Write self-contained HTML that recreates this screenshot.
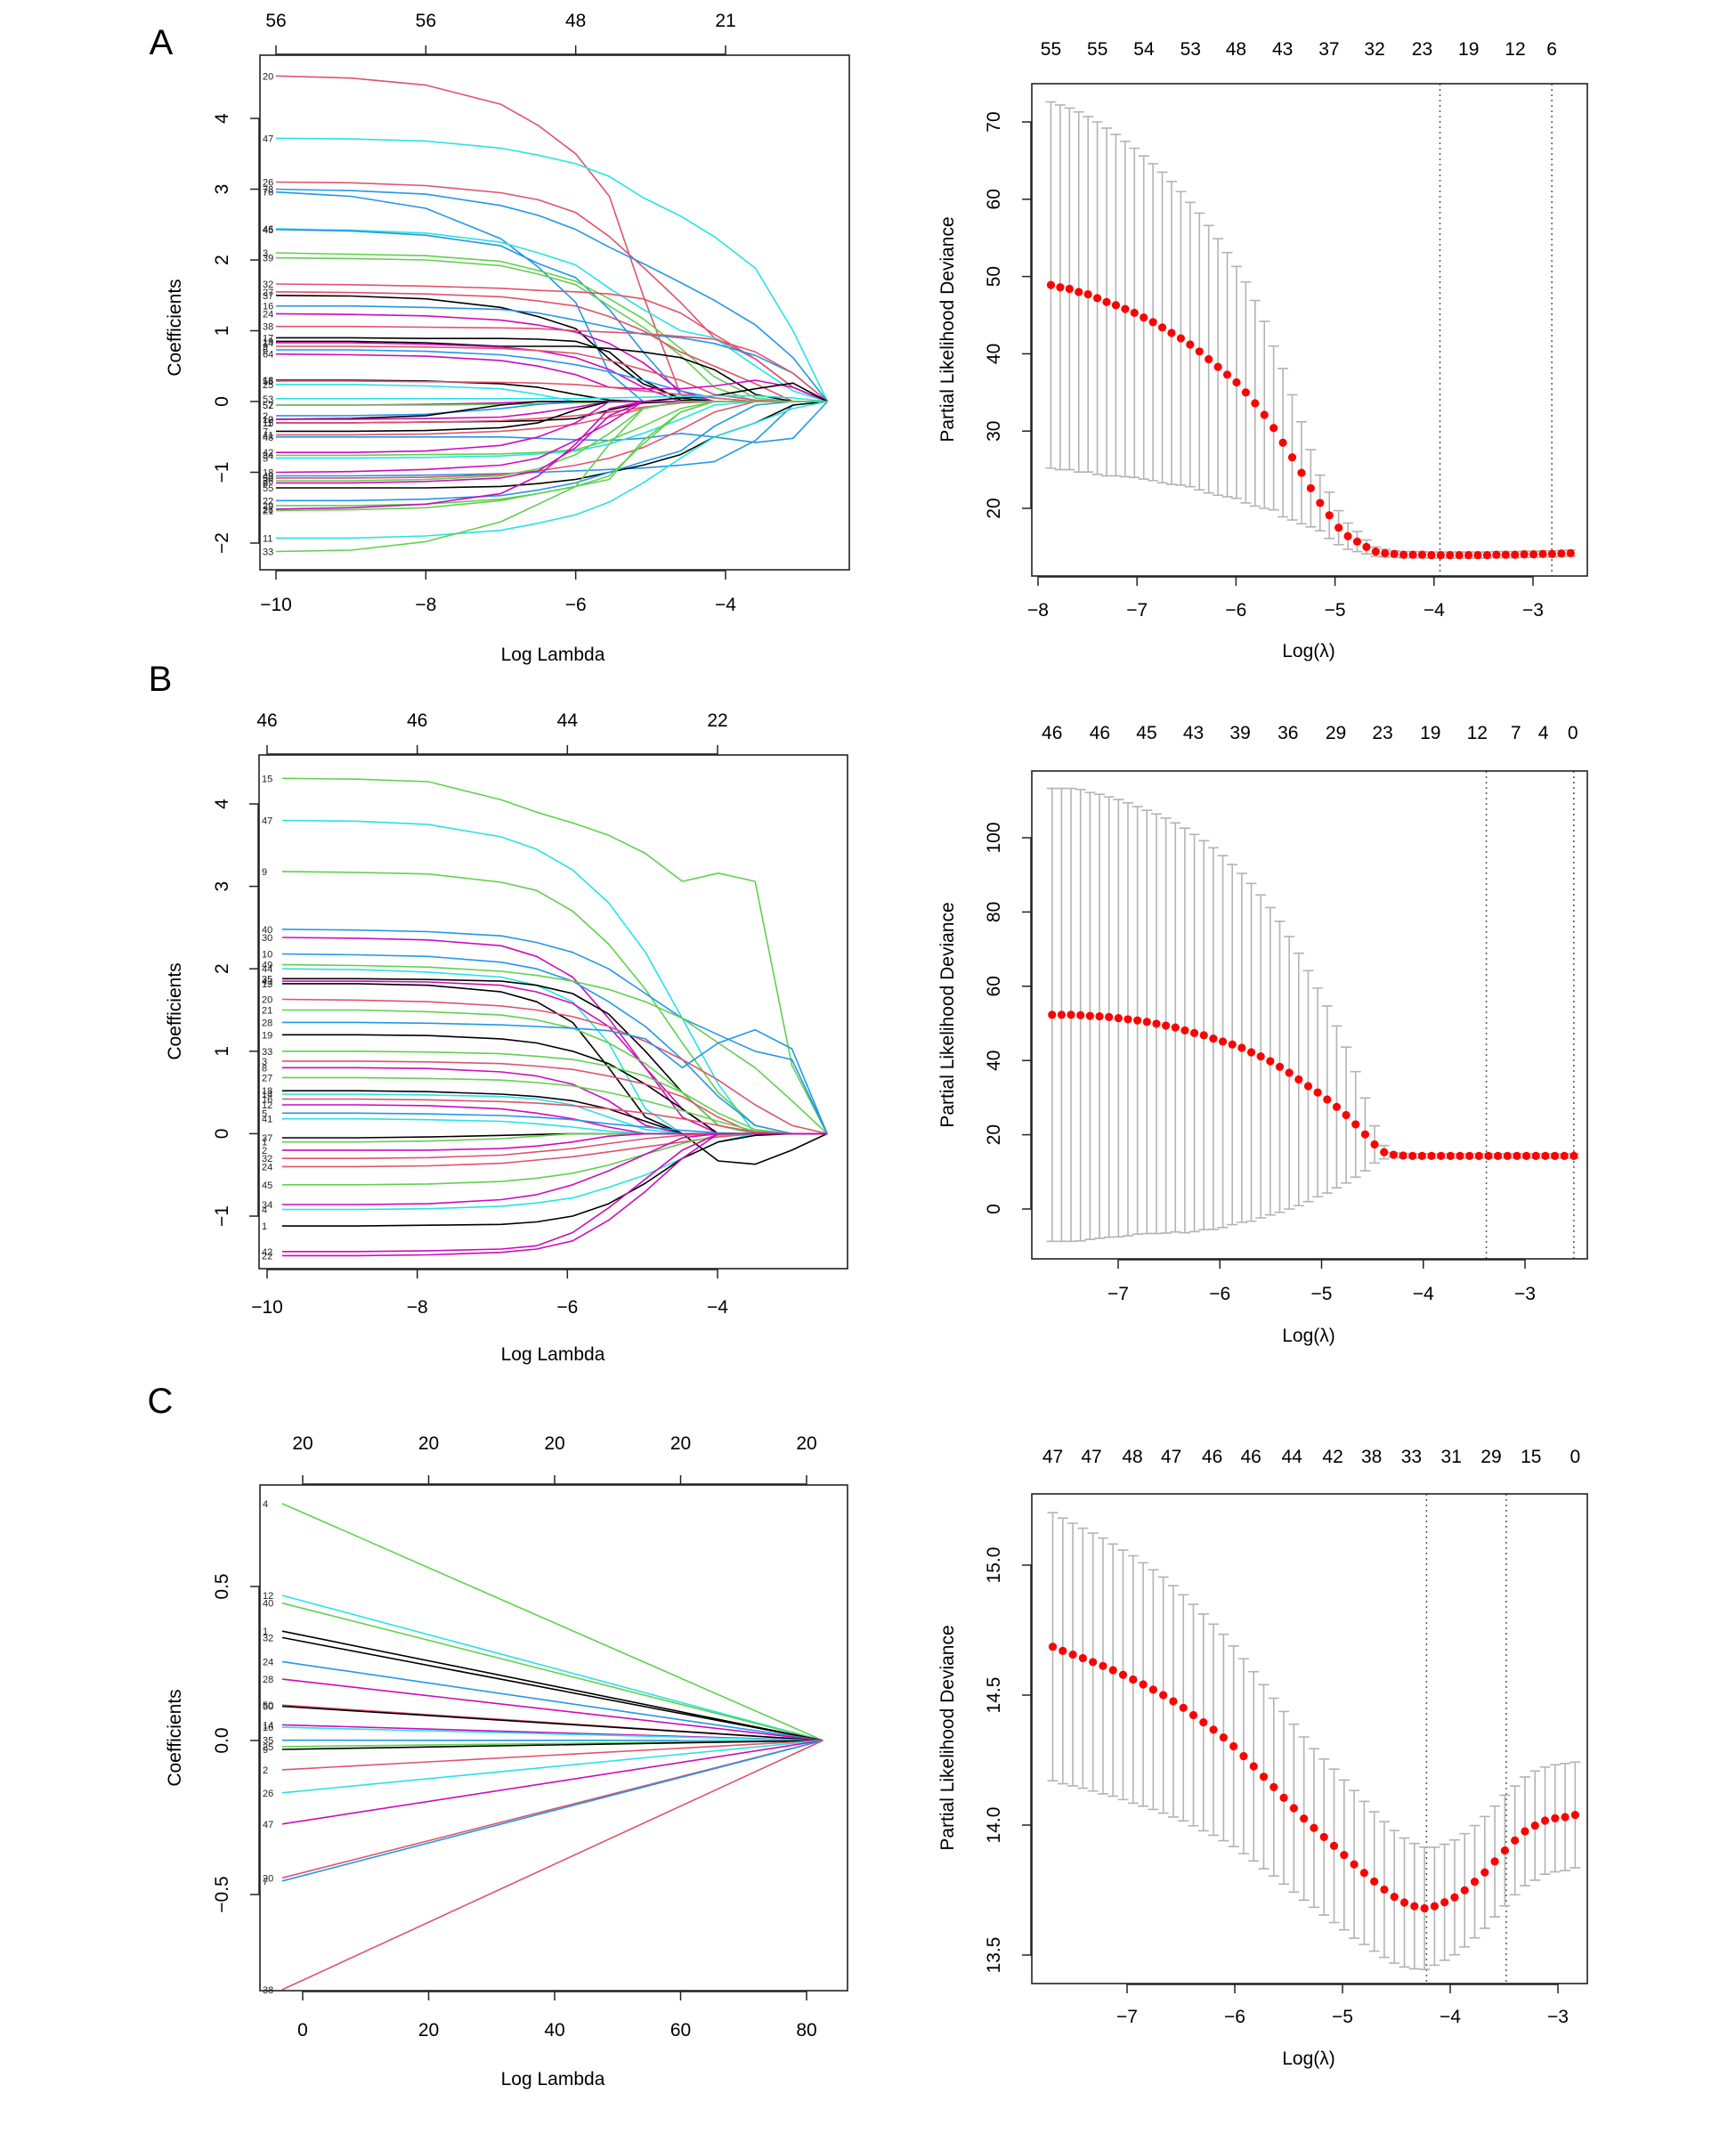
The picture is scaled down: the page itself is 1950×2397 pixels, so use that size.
<!DOCTYPE html>
<html><head><meta charset="utf-8">
<style>
html,body{margin:0;padding:0;background:#fff;}
svg{display:block;font-family:"Liberation Sans",Arial,sans-serif;}
</style></head>
<body>
<svg id="fig" xmlns="http://www.w3.org/2000/svg" width="1950" height="2397" viewBox="0 0 1950 2397">
<rect x="0" y="0" width="1950" height="2397" fill="#fff"/>
<text x="181" y="61" font-size="40" text-anchor="middle">A</text>
<text x="180" y="776" font-size="40" text-anchor="middle">B</text>
<text x="180" y="1587" font-size="40" text-anchor="middle">C</text>
</svg>
<script>
// ---------- Panel A coefficient paths ----------
const aLambda = [-10,-9,-8,-7,-6.5,-6,-5.55,-5.1,-4.6,-4.15,-3.6,-3.1,-2.64];
const aNames = ['20','47','26','78','76','46','45','3','39','32','27','37','16','24','38','17','19','14','9','6','64','18','56','25','53','52','57','2','10','11','13','15','7','41','48','42','34','5','18','49','50','36','8','55','22','29','28','21','11','33'];
const aColors = ['r','c','r','b','b','c','b','g','g','r','r','k','b','m','r','k','k','m','r','b','m','k','r','c','c','m','g','b','k','k','m','r','k','r','b','m','g','c','m','b','r','g','m','k','b','g','m','g','c','g'];
const aCoefs = [
[4.6,4.57,4.47,4.2,3.9,3.5,2.9,1.5,0.1,0,0,0,0],
[3.72,3.71,3.68,3.58,3.48,3.36,3.18,2.88,2.62,2.33,1.88,1.0,0],
[3.1,3.09,3.05,2.95,2.85,2.67,2.33,1.9,1.4,0.9,0.6,0.2,0],
[3.0,2.98,2.93,2.77,2.63,2.43,2.18,1.95,1.68,1.43,1.08,0.62,0],
[2.96,2.9,2.73,2.3,1.9,1.4,0.4,0,0,0,0,0,0],
[2.44,2.42,2.38,2.25,2.1,1.93,1.6,1.3,1.0,0.9,0.5,0.15,0],
[2.43,2.41,2.35,2.2,1.95,1.75,1.3,0.7,0.1,0,0,0,0],
[2.1,2.08,2.06,1.98,1.85,1.7,1.45,1.17,0.75,0.35,0.05,0,0],
[2.03,2.02,2.0,1.92,1.8,1.65,1.35,1.05,0.65,0.2,0,0,0],
[1.66,1.65,1.63,1.6,1.57,1.55,1.52,1.45,1.25,0.95,0.6,0.2,0],
[1.55,1.54,1.52,1.48,1.42,1.35,1.2,1.0,0.7,0.5,0.25,0,0],
[1.5,1.49,1.45,1.33,1.2,1.03,0.6,0.25,0.05,0,0,0,0],
[1.35,1.35,1.33,1.3,1.25,1.15,1.05,0.95,0.9,0.82,0.65,0.4,0],
[1.24,1.23,1.21,1.15,1.08,0.98,0.82,0.55,0.15,0,0,0,0],
[1.06,1.06,1.05,1.04,1.03,1.0,0.98,0.96,0.92,0.88,0.7,0.4,0],
[0.9,0.9,0.89,0.89,0.88,0.85,0.7,0.3,0.02,0,0,0,0],
[0.85,0.85,0.83,0.78,0.78,0.78,0.75,0.7,0.62,0.45,0.1,0,0],
[0.83,0.83,0.81,0.77,0.72,0.62,0.45,0.2,0,0,0,0,0],
[0.78,0.78,0.77,0.75,0.72,0.68,0.58,0.45,0.3,0.1,0.02,0,0],
[0.73,0.73,0.71,0.66,0.6,0.52,0.42,0.3,0.15,0.05,0,0,0],
[0.67,0.66,0.64,0.58,0.5,0.38,0.2,0.18,0.18,0.22,0.3,0.2,0],
[0.3,0.3,0.29,0.25,0.2,0.1,0.02,0,0.05,0.08,0.18,0.26,0],
[0.29,0.29,0.28,0.27,0.26,0.24,0.2,0.15,0.1,0.05,0,0,0],
[0.24,0.24,0.22,0.18,0.1,0,0,0,0,0,0,0,0],
[0.04,0.04,0.04,0.04,0.04,0.04,0.05,0.06,0.07,0.08,0.08,0.05,0],
[-0.05,-0.05,-0.04,-0.02,0,0,0,0,0,0,0,0,0],
[-0.05,-0.05,-0.05,-0.04,-0.03,-0.02,-0.01,0,0,0,0,0,0],
[-0.2,-0.2,-0.18,-0.1,-0.04,0,0,0,0,0,0,0,0],
[-0.25,-0.24,-0.2,-0.05,0,0,0,0,0,0,0,0,0],
[-0.3,-0.3,-0.29,-0.28,-0.27,-0.24,-0.12,-0.02,0,0,0,0,0],
[-0.25,-0.25,-0.24,-0.22,-0.16,-0.08,0,0,0,0,0,0,0],
[-0.3,-0.3,-0.29,-0.27,-0.24,-0.2,-0.15,-0.08,-0.02,0,0,0,0],
[-0.42,-0.42,-0.41,-0.37,-0.3,-0.12,0,0,0,0,0,0,0],
[-0.47,-0.47,-0.46,-0.42,-0.38,-0.32,-0.22,-0.1,0,0,0,0,0],
[-0.5,-0.5,-0.5,-0.5,-0.52,-0.54,-0.55,-0.52,-0.45,-0.5,-0.58,-0.52,0],
[-0.72,-0.72,-0.7,-0.62,-0.5,-0.3,0,0,0,0,0,0,0],
[-0.76,-0.76,-0.75,-0.74,-0.72,-0.68,-0.55,-0.35,-0.1,0,0,0,0],
[-0.8,-0.8,-0.79,-0.77,-0.74,-0.7,-0.6,-0.45,-0.25,-0.05,0,0,0],
[-1.0,-0.99,-0.96,-0.9,-0.8,-0.55,-0.3,0,0,0,0,0,0],
[-1.05,-1.05,-1.04,-1.02,-1.0,-0.98,-0.96,-0.94,-0.9,-0.85,-0.55,-0.05,0],
[-1.08,-1.08,-1.07,-1.03,-0.98,-0.9,-0.8,-0.65,-0.4,-0.15,0,0,0],
[-1.12,-1.12,-1.1,-1.05,-0.95,-0.75,-0.45,-0.1,0,0,0,0,0],
[-1.15,-1.15,-1.13,-1.08,-0.98,-0.65,-0.2,0,0,0,0,0,0],
[-1.22,-1.22,-1.22,-1.2,-1.16,-1.1,-1.0,-0.9,-0.75,-0.5,-0.3,-0.05,0],
[-1.4,-1.4,-1.38,-1.33,-1.25,-1.15,-1.0,-0.85,-0.7,-0.35,-0.05,0,0],
[-1.47,-1.47,-1.45,-1.38,-1.3,-1.2,-1.05,-0.6,-0.15,0,0,0,0],
[-1.52,-1.5,-1.45,-1.3,-1.05,-0.6,-0.1,0,0,0,0,0,0],
[-1.54,-1.53,-1.5,-1.4,-1.3,-1.2,-1.1,-0.55,-0.15,0,0,0,0],
[-1.93,-1.93,-1.9,-1.82,-1.72,-1.6,-1.42,-1.15,-0.8,-0.5,-0.3,-0.1,0],
[-2.12,-2.1,-1.98,-1.7,-1.45,-1.2,-0.6,-0.1,0,0,0,0,0]
];
const aXTicks = [-10,-8,-6,-4];
const aTopLabels = ['56','56','48','21'];
const aYTicks = [-2,-1,0,1,2,3,4];

// ---------- Panel B coefficient paths ----------
const bLambda = [-9.8,-8.8,-7.85,-6.88,-6.41,-5.93,-5.45,-4.96,-4.47,-3.99,-3.5,-3.01,-2.54];
const bNames = ['15','47','9','40','30','10','49','44','35','43','13','20','21','28','19','33','3','8','27','18','14','16','12','5','41','37','1','2','32','24','45','34','4','1','42','22'];
const bColors = ['g','c','g','b','m','b','g','c','k','m','k','r','g','b','k','g','r','m','g','k','c','r','m','b','c','k','g','m','r','r','g','m','c','k','m','m'];
const bCoefs = [
[4.31,4.3,4.27,4.05,3.9,3.77,3.62,3.4,3.06,3.16,3.06,0.83,0],
[3.8,3.79,3.75,3.6,3.45,3.2,2.8,2.2,1.4,0.6,0,0,0],
[3.18,3.17,3.15,3.05,2.95,2.7,2.3,1.75,1.1,0.5,0.1,0,0],
[2.48,2.47,2.45,2.4,2.32,2.2,2.0,1.7,1.4,1.2,1.0,0.9,0],
[2.38,2.37,2.35,2.28,2.15,1.9,1.4,0.8,0.3,0,0,0,0],
[2.18,2.17,2.15,2.08,2.0,1.85,1.6,1.3,0.9,0.45,0.1,0,0],
[2.05,2.04,2.02,1.97,1.92,1.85,1.75,1.6,1.4,1.1,0.8,0.4,0],
[2.0,1.99,1.96,1.9,1.8,1.6,1.1,0.3,0,0,0,0,0],
[1.88,1.88,1.87,1.85,1.8,1.7,1.45,1.0,0.5,0.1,0,0,0],
[1.85,1.85,1.84,1.8,1.72,1.58,1.3,0.8,0.2,0,0,0,0],
[1.82,1.82,1.8,1.72,1.6,1.35,0.8,0.2,0,0,0,0,0],
[1.63,1.62,1.6,1.55,1.5,1.42,1.3,1.12,0.9,0.65,0.35,0.1,0],
[1.5,1.5,1.48,1.44,1.38,1.28,1.1,0.85,0.5,0.1,0,0,0],
[1.35,1.35,1.34,1.32,1.3,1.28,1.25,1.15,0.8,1.1,1.26,1.03,0],
[1.2,1.2,1.19,1.15,1.1,1.0,0.85,0.6,0.3,0,0,0,0],
[1.0,1.0,0.99,0.97,0.94,0.9,0.82,0.7,0.5,0.25,0.05,0,0],
[0.88,0.88,0.87,0.85,0.82,0.78,0.7,0.6,0.45,0.2,0,0,0],
[0.8,0.8,0.79,0.75,0.7,0.6,0.4,0.1,0,0,0,0,0],
[0.68,0.68,0.67,0.65,0.62,0.58,0.5,0.4,0.28,0.15,0.03,0,0],
[0.52,0.52,0.51,0.48,0.45,0.4,0.3,0.15,0,0,0,0,0],
[0.48,0.48,0.47,0.45,0.42,0.35,0.2,0.05,0,0,0,0,0],
[0.42,0.42,0.41,0.39,0.37,0.34,0.3,0.25,0.18,0.1,0.02,0,0],
[0.35,0.35,0.34,0.3,0.25,0.18,0.08,0,0,0,0,0,0],
[0.25,0.25,0.24,0.22,0.2,0.17,0.12,0.08,0.04,0.01,0,0,0],
[0.18,0.18,0.17,0.15,0.12,0.08,0.03,0,0,0,0,0,0],
[-0.05,-0.05,-0.04,-0.02,-0.01,0,0,0,0,-0.33,-0.37,-0.2,0],
[-0.1,-0.1,-0.09,-0.06,-0.03,0,0,0,0,0,0,0,0],
[-0.2,-0.2,-0.2,-0.18,-0.15,-0.1,-0.03,0,0,0,0,0,0],
[-0.3,-0.3,-0.29,-0.26,-0.22,-0.18,-0.12,-0.06,-0.02,0,0,0,0],
[-0.4,-0.4,-0.39,-0.36,-0.32,-0.28,-0.22,-0.16,-0.1,-0.04,0,0,0],
[-0.62,-0.62,-0.61,-0.58,-0.54,-0.48,-0.38,-0.25,-0.12,-0.02,0,0,0],
[-0.86,-0.86,-0.85,-0.8,-0.74,-0.62,-0.45,-0.25,-0.05,0,0,0,0],
[-0.92,-0.92,-0.91,-0.88,-0.84,-0.78,-0.65,-0.5,-0.3,-0.1,0,0,0],
[-1.12,-1.12,-1.11,-1.1,-1.07,-1.0,-0.85,-0.6,-0.3,-0.1,-0.02,0,0],
[-1.43,-1.43,-1.42,-1.4,-1.36,-1.2,-0.9,-0.55,-0.2,0,0,0,0],
[-1.48,-1.48,-1.47,-1.44,-1.4,-1.3,-1.05,-0.7,-0.3,0,0,0,0]
];
const bXTicks = [-10,-8,-6,-4];
const bTopLabels = ['46','46','44','22'];
const bYTicks = [-1,0,1,2,3,4];

// ---------- Panel C coefficient paths (linear) ----------
const cLambda = [-3.25,82.6];
const cNames = ['4','12','40','1','32','24','28','50','50','14','16','35','25','9','2','26','47','20','7','38'];
const cColors = ['g','c','g','k','k','b','m','r','k','m','c','b','g','k','r','c','m','r','b','r'];
const cStart = [0.769,0.471,0.446,0.355,0.334,0.256,0.199,0.115,0.111,0.051,0.043,0.001,-0.02,-0.029,-0.095,-0.17,-0.271,-0.446,-0.456,-0.809];
const cXTicks = [0,20,40,60,80];
const cTopLabels = ['20','20','20','20','20'];
const cYTicks = [-0.5,0,0.5];
const cYTickLabels = ['\u22120.5','0.0','0.5'];

// ---------- Right panels: CV curves ----------
const dMean = [48.9,48.6,48.4,48.0,47.7,47.2,46.7,46.3,45.8,45.3,44.7,44.1,43.4,42.7,42.0,41.2,40.3,39.3,38.3,37.3,36.3,35.0,33.6,32.1,30.4,28.5,26.6,24.6,22.6,20.7,19.1,17.5,16.4,15.7,15.0,14.4,14.2,14.1,14.0,14.0,14.0,13.95,13.95,13.95,13.95,13.95,13.95,13.95,14.0,14.0,14.0,14.05,14.05,14.1,14.1,14.15,14.2];
const dSE = [23.7,23.6,23.4,23.3,23.0,22.8,22.5,22.1,21.7,21.3,20.9,20.5,20.1,19.6,19.0,18.4,17.9,17.3,16.6,15.8,15.0,14.3,13.3,12.1,10.6,9.6,8.1,6.6,5.0,3.6,3.0,2.2,1.7,1.3,0.9,0.6,0.5,0.4,0.4,0.4,0.4,0.4,0.4,0.4,0.4,0.4,0.4,0.4,0.4,0.4,0.4,0.4,0.4,0.4,0.4,0.4,0.4];
const dLambdaRange = [-7.87,-2.62];
const dVlines = [-3.94,-2.81];
const dTopLabels = ['55','55','54','53','48','43','37','32','23','19','12','6'];
const dTopPos = [-7.87,-7.4,-6.93,-6.46,-6.0,-5.53,-5.06,-4.6,-4.12,-3.65,-3.18,-2.81];
const dXTicks = [-8,-7,-6,-5,-4,-3];
const dYTicks = [20,30,40,50,60,70];

const eMean = [52.3,52.3,52.3,52.2,52.0,51.9,51.7,51.4,51.1,50.8,50.4,49.9,49.4,48.9,48.1,47.4,46.8,45.9,45.1,44.3,43.4,42.2,41.1,39.8,38.3,36.7,34.9,33.1,31.4,29.5,27.5,25.3,22.8,20.1,17.4,15.3,14.6,14.4,14.3,14.3,14.3,14.3,14.3,14.3,14.3,14.3,14.3,14.3,14.3,14.3,14.3,14.3,14.3,14.3,14.3,14.3];
const eSE = [61.0,61.0,61.0,60.8,60.2,59.8,59.3,58.9,58.3,57.6,57.0,56.5,55.9,55.1,54.5,53.5,52.4,51.4,50.1,48.5,47.0,45.5,43.5,41.4,39.2,36.7,34.0,31.1,28.1,25.2,21.8,18.3,14.2,9.8,5.0,1.8,0.6,0.6,0.6,0.6,0.6,0.6,0.6,0.6,0.6,0.6,0.6,0.6,0.6,0.6,0.6,0.6,0.6,0.6,0.6,0.6];
const eLambdaRange = [-7.65,-2.52];
const eVlines = [-3.38,-2.52];
const eTopLabels = ['46','46','45','43','39','36','29','23','19','12','7','4','0'];
const eTopPos = [-7.65,-7.18,-6.72,-6.26,-5.8,-5.33,-4.86,-4.4,-3.93,-3.47,-3.09,-2.82,-2.53];
const eXTicks = [-7,-6,-5,-4,-3];
const eYTicks = [0,20,40,60,80,100];

const fMean = [14.686,14.670,14.656,14.642,14.627,14.612,14.596,14.578,14.560,14.541,14.521,14.500,14.476,14.451,14.423,14.395,14.367,14.337,14.303,14.265,14.226,14.186,14.146,14.105,14.065,14.025,13.989,13.954,13.920,13.885,13.849,13.816,13.783,13.752,13.724,13.702,13.688,13.680,13.688,13.703,13.722,13.749,13.782,13.818,13.860,13.902,13.941,13.976,13.998,14.017,14.026,14.031,14.039];
const fSE = [.516,.511,.505,.500,.496,.492,.485,.480,.476,.468,.461,.454,.445,.435,.426,.417,.406,.397,.386,.375,.364,.354,.342,.332,.323,.314,.305,.300,.295,.288,.284,.275,.268,.261,.255,.248,.241,.235,.227,.223,.221,.218,.216,.215,.213,.213,.209,.209,.210,.206,.206,.206,.203];
const fLambdaRange = [-7.69,-2.84];
const fVlines = [-4.22,-3.48];
const fTopLabels = ['47','47','48','47','46','46','44','42','38','33','31','29','15','0'];
const fTopPos = [-7.69,-7.33,-6.95,-6.59,-6.21,-5.85,-5.47,-5.09,-4.73,-4.36,-3.99,-3.62,-3.25,-2.84];
const fXTicks = [-7,-6,-5,-4,-3];
const fYTicks = [13.5,14.0,14.5,15.0];
const fYTickLabels = ['13.5','14.0','14.5','15.0'];

// ---------- drawing ----------
const NS = 'http://www.w3.org/2000/svg';
const svg = document.getElementById('fig');
const COL = {k:'#000000', r:'#DF536B', g:'#61D04F', b:'#2297E6', c:'#28E2E5', m:'#CD0BBC'};
function el(tag, attrs, parent){
  const e = document.createElementNS(NS, tag);
  for (const k in attrs) e.setAttribute(k, attrs[k]);
  (parent||svg).appendChild(e);
  return e;
}
function lin(d0,d1,p0,p1){ return v => p0 + (v-d0)*(p1-p0)/(d1-d0); }
function fmt(v){ return (v<0?'\u2212':'') + Math.abs(v); }
function linspace(a,b,n){ const r=[]; for(let i=0;i<n;i++) r.push(a+(b-a)*i/(n-1)); return r; }

function frame(g, box, name){
  const r = el('rect',{x:box.x0,y:box.y0,width:box.x1-box.x0,height:box.y1-box.y0,fill:'none',stroke:'#222','stroke-width':1.6}, g);
  
  
}
function xAxis(g, box, xs, ticks, labels, labelY, name){
  const ax = el('g',{}, g);
  
  
  el('line',{x1:xs(ticks[0]),x2:xs(ticks[ticks.length-1]),y1:box.y1+1,y2:box.y1+1,stroke:'#222','stroke-width':1.5}, ax);
  ticks.forEach((t,i)=>{
    el('line',{x1:xs(t),x2:xs(t),y1:box.y1,y2:box.y1+11,stroke:'#222','stroke-width':1.5}, ax);
    const tx = el('text',{x:xs(t),y:labelY,'font-size':21,'text-anchor':'middle'}, ax);
    tx.textContent = labels ? labels[i] : fmt(t);
    
    
  });
}
function topAxis(g, box, xs, ticks, labels, labelY, name, withLine){
  const ax = el('g',{}, g);
  
  
  if (withLine) el('line',{x1:xs(ticks[0]),x2:xs(ticks[ticks.length-1]),y1:box.y0-1,y2:box.y0-1,stroke:'#222','stroke-width':1.5}, ax);
  ticks.forEach((t,i)=>{
    if (withLine) el('line',{x1:xs(t),x2:xs(t),y1:box.y0,y2:box.y0-11,stroke:'#222','stroke-width':1.5}, ax);
    const tx = el('text',{x:xs(t),y:labelY,'font-size':21,'text-anchor':'middle'}, ax);
    tx.textContent = labels[i];
    
    
  });
}
function yAxis(g, box, ys, ticks, labels, labelX, name){
  const ax = el('g',{}, g);
  
  
  el('line',{x1:box.x0-1,x2:box.x0-1,y1:ys(ticks[0]),y2:ys(ticks[ticks.length-1]),stroke:'#222','stroke-width':1.5}, ax);
  ticks.forEach((t,i)=>{
    el('line',{x1:box.x0,x2:box.x0-11,y1:ys(t),y2:ys(t),stroke:'#222','stroke-width':1.5}, ax);
    const tx = el('text',{x:labelX,y:ys(t),'font-size':21,'text-anchor':'middle',transform:`rotate(-90 ${labelX} ${ys(t)})`}, ax);
    tx.textContent = labels ? labels[i] : fmt(t);
    
    
  });
}
function title(g, x, y, txt, rot, name){
  const t = el('text',{x:x,y:y,'font-size':21,'text-anchor':'middle'}, g);
  if (rot) t.setAttribute('transform', `rotate(-90 ${x} ${y})`);
  t.textContent = txt;
  
  
}

function pathPanel(name, box, xs, ys, lambda, coefs, colors, names){
  const g = el('g',{});
  
  
  coefs.forEach((row,i)=>{
    const d = row.map((v,j)=>(j?'L':'M')+xs(lambda[j]).toFixed(1)+','+ys(v).toFixed(1)).join(' ');
    const p = el('path',{d:d,fill:'none',stroke:COL[colors[i]],'stroke-width':1.6,'stroke-linejoin':'round'}, g);
    
    
    const t = el('text',{x:box.x0+3,y:ys(row[0])+4,'font-size':11,fill:'#222'}, g);
    t.textContent = names[i];
    
    
  });
  frame(g, box, name);
  return g;
}

function cvPanel(name, box, xs, ys, lr, mean, se, vlines){
  const g = el('g',{});
  
  
  const lam = linspace(lr[0], lr[1], mean.length);
  vlines.forEach(v=>{
    const l = el('line',{x1:xs(v),x2:xs(v),y1:box.y0,y2:box.y1,stroke:'#555','stroke-width':1.5,'stroke-dasharray':'2,4'}, g);
    
    
  });
  mean.forEach((m,i)=>{
    const x = xs(lam[i]), yu = ys(m+se[i]), yl = ys(m-se[i]);
    const eb = el('path',{d:`M${x},${yu}L${x},${yl}M${x-6},${yu}L${x+6},${yu}M${x-6},${yl}L${x+6},${yl}`,stroke:'#B3B3B3','stroke-width':1.6,fill:'none'}, g);
    
    
  });
  mean.forEach((m,i)=>{
    const c = el('circle',{cx:xs(lam[i]),cy:ys(m),r:4.6,fill:'#FF0000'}, g);
    
    
  });
  frame(g, box, name);
  return g;
}

// Panel A left
{
  const box = {x0:292,y0:62,x1:954,y1:640};
  const xs = lin(-10,-4,310,815), ys = lin(0,4,451,133);
  const g = pathPanel('coef-path-plot-a', box, xs, ys, aLambda, aCoefs, aColors, aNames);
  xAxis(g, box, xs, aXTicks, null, 686, 'coef-a');
  topAxis(g, box, xs, aXTicks, aTopLabels, 30, 'coef-a', true);
  yAxis(g, box, ys, aYTicks, null, 256, 'coef-a');
  title(g, 621, 742, 'Log Lambda', false, 'x-axis-title-a');
  title(g, 203, 368, 'Coefficients', true, 'y-axis-title-a');
}
// Panel A right
{
  const box = {x0:1159,y0:94,x1:1783,y1:647};
  const xs = lin(-8,-3,1166,1722), ys = lin(70,20,137,571);
  const g = cvPanel('cv-plot-a', box, xs, ys, dLambdaRange, dMean, dSE, dVlines);
  xAxis(g, box, xs, dXTicks, null, 692, 'cv-a');
  topAxis(g, box, xs, dTopPos, dTopLabels, 62, 'cv-a', false);
  yAxis(g, box, ys, dYTicks, null, 1123, 'cv-a');
  title(g, 1470, 738, 'Log(\u03bb)', false, 'x-axis-title-cv-a');
  title(g, 1071, 370, 'Partial Likelihood Deviance', true, 'y-axis-title-cv-a');
}
// Panel B left
{
  const box = {x0:291,y0:848,x1:952,y1:1425};
  const xs = lin(-10,-4,300,806), ys = lin(4,-1,903,1366);
  const g = pathPanel('coef-path-plot-b', box, xs, ys, bLambda, bCoefs, bColors, bNames);
  xAxis(g, box, xs, bXTicks, null, 1475, 'coef-b');
  topAxis(g, box, xs, bXTicks, bTopLabels, 816, 'coef-b', true);
  yAxis(g, box, ys, bYTicks, null, 256, 'coef-b');
  title(g, 621, 1528, 'Log Lambda', false, 'x-axis-title-b');
  title(g, 203, 1136, 'Coefficients', true, 'y-axis-title-b');
}
// Panel B right
{
  const box = {x0:1159,y0:866,x1:1783,y1:1414};
  const xs = lin(-7,-3,1256,1713), ys = lin(100,0,941,1358);
  const g = cvPanel('cv-plot-b', box, xs, ys, eLambdaRange, eMean, eSE, eVlines);
  xAxis(g, box, xs, eXTicks, null, 1460, 'cv-b');
  topAxis(g, box, xs, eTopPos, eTopLabels, 830, 'cv-b', false);
  yAxis(g, box, ys, eYTicks, null, 1123, 'cv-b');
  title(g, 1470, 1507, 'Log(\u03bb)', false, 'x-axis-title-cv-b');
  title(g, 1071, 1140, 'Partial Likelihood Deviance', true, 'y-axis-title-cv-b');
}
// Panel C left
{
  const box = {x0:292,y0:1668,x1:952,y1:2236};
  const xs = lin(0,80,340,906), ys = lin(0.5,-0.5,1782,2128);
  const coefs = cStart.map(v=>[v,0]);
  const g = pathPanel('coef-path-plot-c', box, xs, ys, cLambda, coefs, cColors, cNames);
  xAxis(g, box, xs, cXTicks, null, 2287, 'coef-c');
  topAxis(g, box, xs, cXTicks, cTopLabels, 1628, 'coef-c', true);
  yAxis(g, box, ys, cYTicks, cYTickLabels, 256, 'coef-c');
  title(g, 621, 2342, 'Log Lambda', false, 'x-axis-title-c');
  title(g, 203, 1952, 'Coefficients', true, 'y-axis-title-c');
}
// Panel C right
{
  const box = {x0:1159,y0:1678,x1:1783,y1:2228};
  const xs = lin(-7,-3,1266,1750), ys = lin(15,13.5,1758,2196);
  const g = cvPanel('cv-plot-c', box, xs, ys, fLambdaRange, fMean, fSE, fVlines);
  xAxis(g, box, xs, fXTicks, null, 2272, 'cv-c');
  topAxis(g, box, xs, fTopPos, fTopLabels, 1643, 'cv-c', false);
  yAxis(g, box, ys, fYTicks, fYTickLabels, 1123, 'cv-c');
  title(g, 1470, 2319, 'Log(\u03bb)', false, 'x-axis-title-cv-c');
  title(g, 1071, 1952, 'Partial Likelihood Deviance', true, 'y-axis-title-cv-c');
}
</script>
</body></html>
